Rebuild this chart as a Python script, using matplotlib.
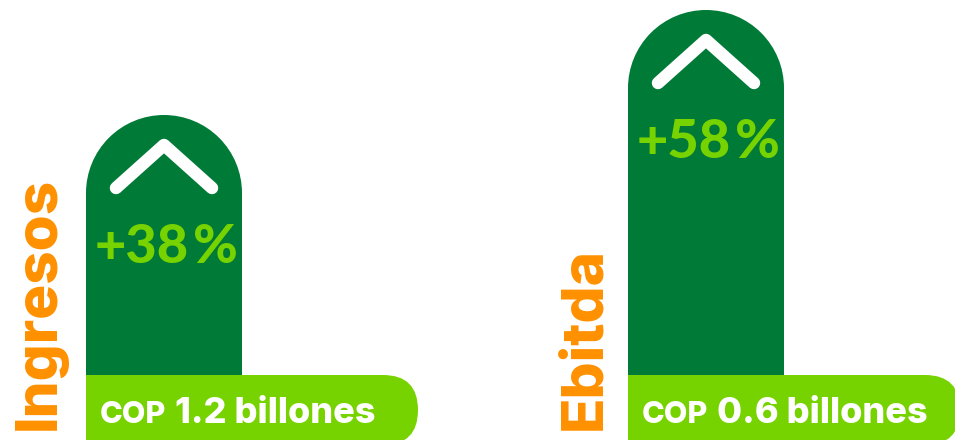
import matplotlib.pyplot as plt
from matplotlib.patches import FancyBboxPatch, Rectangle, Wedge

# data
metrics = ['Ingresos', 'Ebitda']
growth = [38, 58]                      # % growth
amounts = ['1.2', '0.6']               # COP billones
bar_heights = [260, 365]               # bar height above the label band

dark_green = '#007A37'
light_green = '#77D300'
orange = '#FF9100'

fig = plt.figure(figsize=(9.55, 4.4), dpi=100)
ax = fig.add_axes([0, 0, 1, 1])
ax.set_xlim(0, 955)
ax.set_ylim(-65, 375)
ax.set_aspect('equal')
ax.axis('off')

bar_left = [86, 628]
bar_w = 156
r = bar_w / 2
band_w = 332
band_h = 70
label_x = [55, 600]

renderer = fig.canvas.get_renderer()


def to_data_x(px):
    return ax.transData.inverted().transform((px, 0))[0]


for i, name in enumerate(metrics):
    x0 = bar_left[i]
    h = bar_heights[i]
    cx = x0 + r

    # bar with a half-circle top
    ax.add_patch(Rectangle((x0, -10), bar_w, h - r + 10, fc=dark_green,
                           ec='none', zorder=2))
    ax.add_patch(Wedge((cx, h - r), r, 0, 180, fc=dark_green, ec='none',
                       zorder=2))

    # chevron
    ax.plot([cx - 48, cx, cx + 48], [h - 73, h - 30, h - 73], color='white',
            lw=9, solid_capstyle='round', solid_joinstyle='round', zorder=3)

    # growth text, drawn in two parts to keep the gap tight
    t = ax.text(x0 + 9, h - 148, f'+{growth[i]}', color=light_green,
                fontsize=39, fontfamily='Lato', fontweight='black',
                ha='left', va='baseline', zorder=4)
    bb = t.get_window_extent(renderer)
    ax.text(to_data_x(bb.x1) + 4, h - 148, '%', color=light_green,
            fontsize=39, fontfamily='Lato', fontweight='black',
            ha='left', va='baseline', zorder=4)

    # label band: square left end, round right end
    ax.add_patch(Rectangle((x0, -band_h), 60, band_h, fc=light_green,
                           ec='none', zorder=3))
    ax.add_patch(FancyBboxPatch((x0, -band_h), band_w, band_h,
                                boxstyle='round,pad=0,rounding_size=35',
                                fc=light_green, ec='none', zorder=3))

    t1 = ax.text(x0 + 14, -48, 'COP', color='white', fontsize=22,
                 fontfamily='Inter', fontweight='heavy', ha='left',
                 va='baseline', zorder=4)
    bb = t1.get_window_extent(renderer)
    ax.text(to_data_x(bb.x1) + 9, -48, f'{amounts[i]} billones',
            color='white', fontsize=26, fontfamily='Inter',
            fontweight='heavy', ha='left', va='baseline', zorder=4)

    # vertical metric name
    ax.text(label_x[i], -55, name, color=orange, fontsize=42,
            fontfamily='Inter', fontweight='heavy', rotation=90,
            rotation_mode='anchor', ha='left', va='baseline', zorder=4)

fig.savefig('out.png', dpi=100)
